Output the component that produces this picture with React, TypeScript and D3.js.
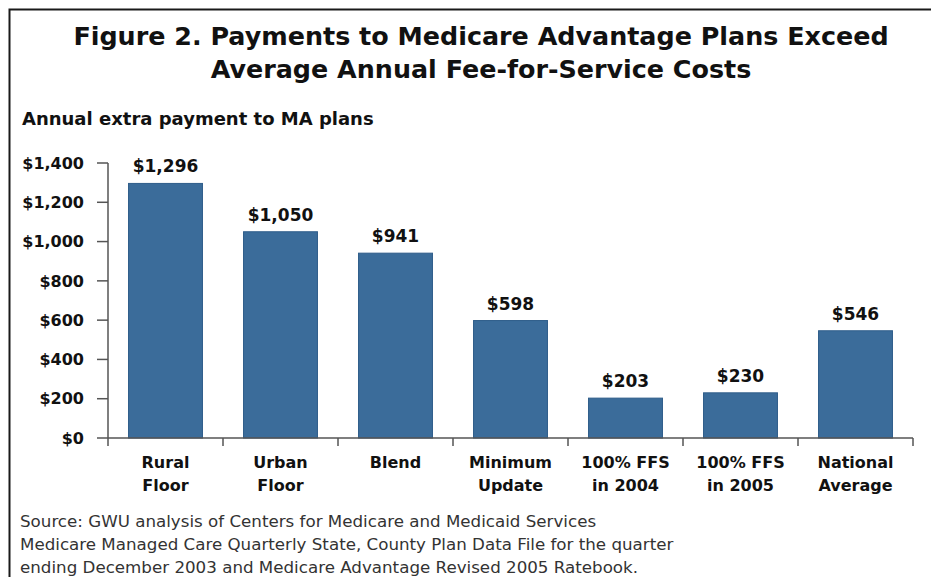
import React, { useEffect, useRef } from "react";
import * as d3 from "d3";

// Annual extra payment to Medicare Advantage plans, by payment basis
const categories: string[][] = [
  ["Rural", "Floor"],
  ["Urban", "Floor"],
  ["Blend"],
  ["Minimum", "Update"],
  ["100% FFS", "in 2004"],
  ["100% FFS", "in 2005"],
  ["National", "Average"],
];
const payments: number[] = [1296, 1050, 941, 598, 203, 230, 546];
const yTicks: number[] = [0, 200, 400, 600, 800, 1000, 1200, 1400];

const titleLines = [
  "Figure 2. Payments to Medicare Advantage Plans Exceed",
  "Average Annual Fee-for-Service Costs",
];
const subtitle = "Annual extra payment to MA plans";
const sourceLines = [
  "Source: GWU analysis of Centers for Medicare and Medicaid Services",
  "Medicare Managed Care Quarterly State, County Plan Data File for the quarter",
  "ending December 2003 and Medicare Advantage Revised 2005 Ratebook.",
];

const WIDTH = 931;
const HEIGHT = 577;
const BOLD = "'DejaVu Sans', Verdana, sans-serif";
const BAR_COLOR = "#3b6c9a";
const AXIS_COLOR = "#555";

const fmt = (v: number) => "$" + d3.format(",")(v);

const drawChart = (svgEl: SVGSVGElement) => {
  const svg = d3.select(svgEl);
  svg.selectAll("*").remove();

  svg.append("rect").attr("width", WIDTH).attr("height", HEIGHT).attr("fill", "#fff");

  // frame
  svg
    .append("rect")
    .attr("x", 9.5)
    .attr("y", 9.5)
    .attr("width", 940)
    .attr("height", 600)
    .attr("fill", "none")
    .attr("stroke", "#1a1a1a")
    .attr("stroke-width", 2);

  // title
  svg
    .append("g")
    .selectAll("text")
    .data(titleLines)
    .join("text")
    .attr("x", 481)
    .attr("y", (_, i) => 45 + i * 33)
    .attr("text-anchor", "middle")
    .attr("font-family", BOLD)
    .attr("font-weight", "bold")
    .attr("font-size", 25.4)
    .attr("fill", "#111")
    .text((d) => d);

  svg
    .append("text")
    .attr("x", 22)
    .attr("y", 125)
    .attr("font-family", BOLD)
    .attr("font-weight", "bold")
    .attr("font-size", 18)
    .attr("fill", "#111")
    .text(subtitle);

  const x = d3
    .scaleBand<number>()
    .domain(d3.range(payments.length))
    .range([108, 913])
    .paddingInner(0.357)
    .paddingOuter(0.1785);

  const y = d3.scaleLinear().domain([0, 1400]).range([438, 163]);

  // bars
  svg
    .append("g")
    .selectAll("rect")
    .data(payments)
    .join("rect")
    .attr("x", (_, i) => x(i)!)
    .attr("y", (d) => y(d))
    .attr("width", x.bandwidth())
    .attr("height", (d) => y(0) - y(d))
    .attr("fill", BAR_COLOR)
    .attr("stroke", "#2f5d8a")
    .attr("stroke-width", 1);

  // value labels
  svg
    .append("g")
    .selectAll("text")
    .data(payments)
    .join("text")
    .attr("x", (_, i) => x(i)! + x.bandwidth() / 2)
    .attr("y", (d) => y(d) - 11)
    .attr("text-anchor", "middle")
    .attr("font-family", BOLD)
    .attr("font-weight", "bold")
    .attr("font-size", 17)
    .attr("fill", "#111")
    .text((d) => fmt(d));

  // y axis
  const yAxis = svg.append("g");
  yAxis
    .append("line")
    .attr("x1", 108)
    .attr("x2", 108)
    .attr("y1", y(1400))
    .attr("y2", y(0))
    .attr("stroke", AXIS_COLOR)
    .attr("stroke-width", 1.5);
  yAxis
    .selectAll("line.tick")
    .data(yTicks)
    .join("line")
    .attr("class", "tick")
    .attr("x1", 97)
    .attr("x2", 108)
    .attr("y1", (d) => y(d))
    .attr("y2", (d) => y(d))
    .attr("stroke", AXIS_COLOR)
    .attr("stroke-width", 1.5);
  yAxis
    .selectAll("text")
    .data(yTicks)
    .join("text")
    .attr("x", 84)
    .attr("y", (d) => y(d))
    .attr("dy", "0.36em")
    .attr("text-anchor", "end")
    .attr("font-family", BOLD)
    .attr("font-weight", "bold")
    .attr("font-size", 16)
    .attr("fill", "#111")
    .text((d) => fmt(d));

  // x axis
  const xAxis = svg.append("g");
  xAxis
    .append("line")
    .attr("x1", 108)
    .attr("x2", 913)
    .attr("y1", y(0))
    .attr("y2", y(0))
    .attr("stroke", AXIS_COLOR)
    .attr("stroke-width", 1.5);
  const bounds = d3.range(payments.length + 1).map((i) => 108 + i * x.step());
  xAxis
    .selectAll("line.tick")
    .data(bounds)
    .join("line")
    .attr("class", "tick")
    .attr("x1", (d) => d)
    .attr("x2", (d) => d)
    .attr("y1", y(0))
    .attr("y2", y(0) + 8)
    .attr("stroke", AXIS_COLOR)
    .attr("stroke-width", 1.5);

  const cat = xAxis
    .selectAll("text")
    .data(categories)
    .join("text")
    .attr("x", (_, i) => x(i)! + x.bandwidth() / 2)
    .attr("y", 468)
    .attr("text-anchor", "middle")
    .attr("font-family", BOLD)
    .attr("font-weight", "bold")
    .attr("font-size", 16)
    .attr("fill", "#111");
  cat
    .selectAll("tspan")
    .data((d) => d)
    .join("tspan")
    .attr("x", function () {
      return (this.parentNode as SVGTextElement).getAttribute("x");
    })
    .attr("dy", (_, i) => (i === 0 ? 0 : 23))
    .text((d) => d);

  // source note
  svg
    .append("g")
    .selectAll("text")
    .data(sourceLines)
    .join("text")
    .attr("x", 20)
    .attr("y", (_, i) => 526.5 + i * 23)
    .attr("font-family", "'DejaVu Sans', sans-serif")
    .attr("font-size", 16.7)
    .attr("fill", "#333")
    .text((d) => d);
};

const App: React.FC = () => {
  const svgRef = useRef<SVGSVGElement>(null);

  useEffect(() => {
    document.body.style.margin = "0";
    if (svgRef.current) drawChart(svgRef.current);
  }, []);

  return <svg ref={svgRef} width={WIDTH} height={HEIGHT} style={{ display: "block" }} />;
};

export default App;
